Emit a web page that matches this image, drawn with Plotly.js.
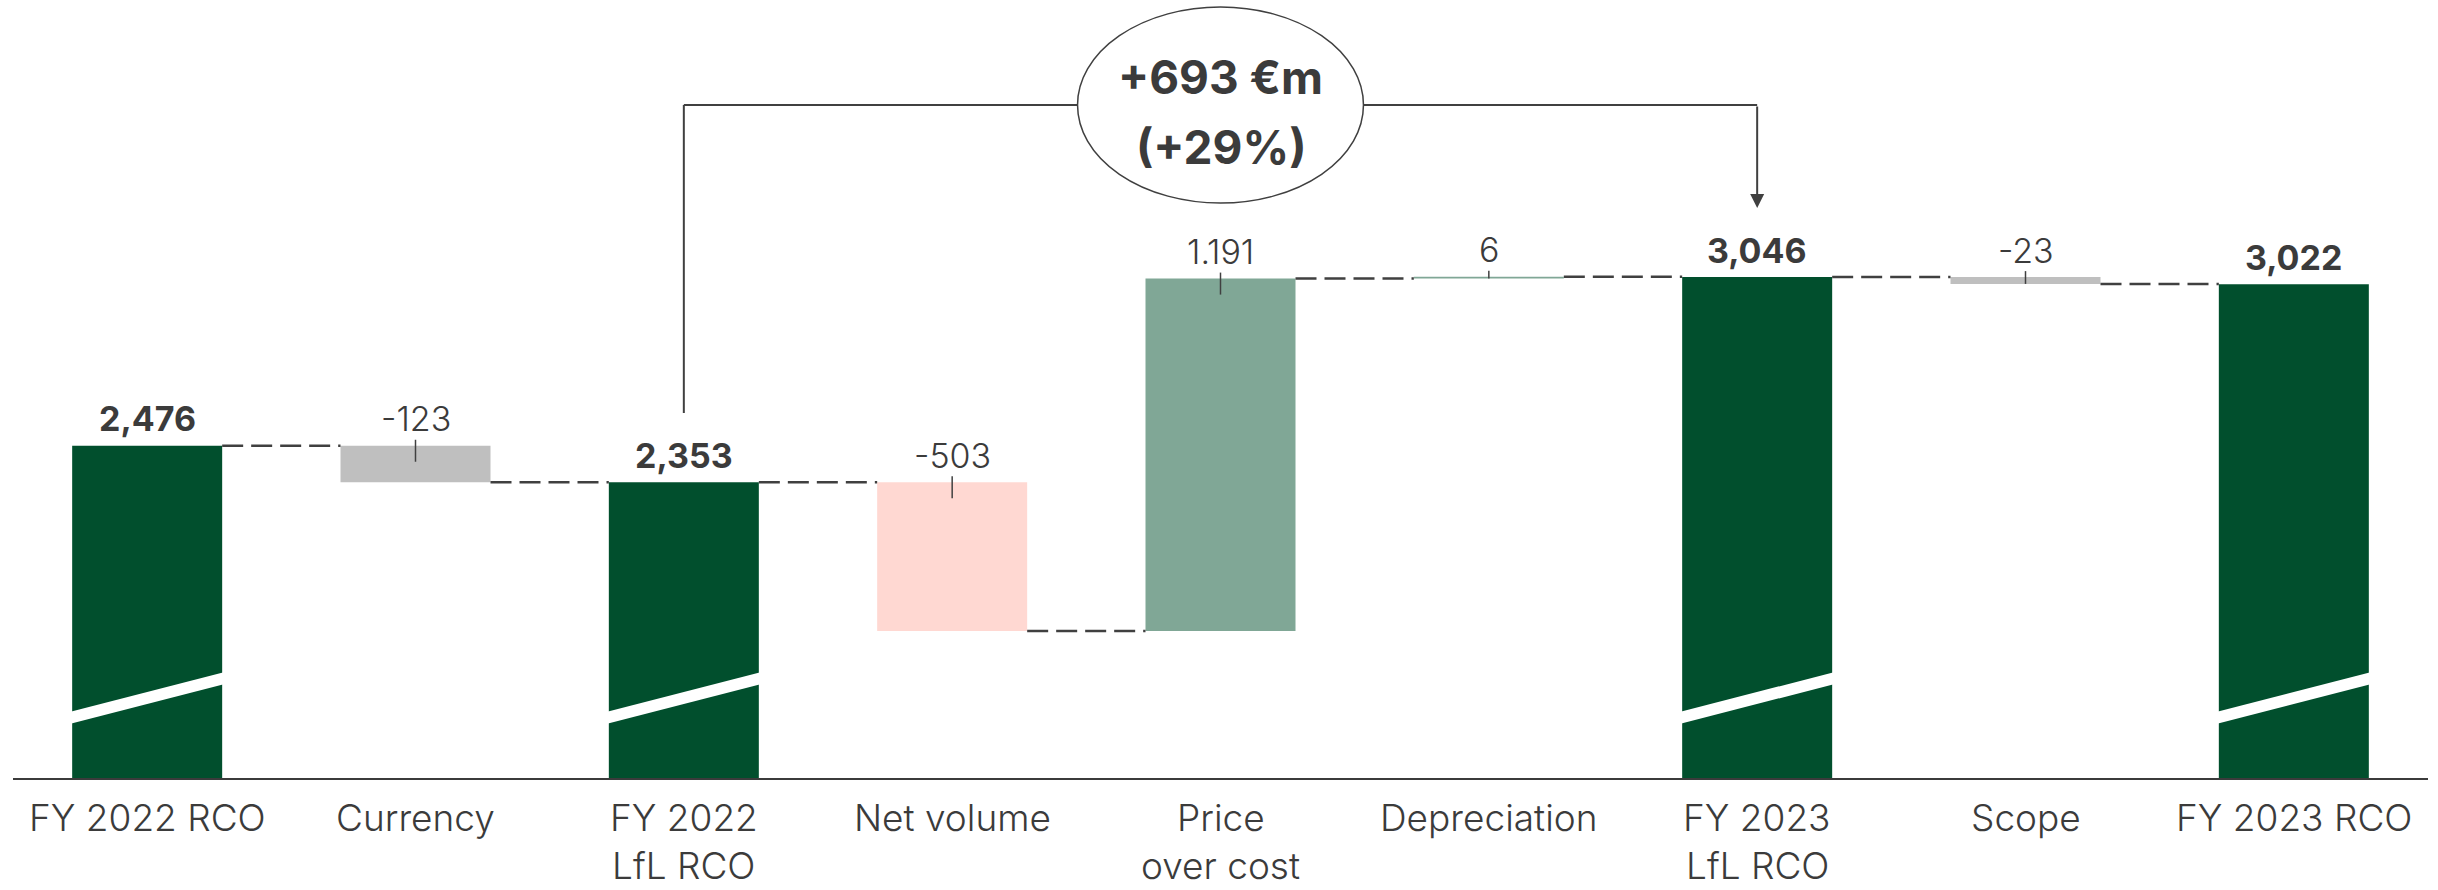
<!DOCTYPE html>
<html>
<head>
<meta charset="utf-8">
<script src="https://cdn.plot.ly/plotly-3.0.1.min.js"></script>
<style>
  html, body { margin: 0; padding: 0; background: #ffffff; }
  #chart { width: 2438px; height: 890px; }
</style>
</head>
<body>
<div id="chart"></div>
<script>
// bridge data, EUR m
var categories = ['FY 2022 RCO', 'Currency', 'FY 2022<br>LfL RCO', 'Net volume', 'Price<br>over cost',
                  'Depreciation', 'FY 2023<br>LfL RCO', 'Scope', 'FY 2023 RCO'];
var measures = ['total', 'relative', 'total', 'relative', 'relative', 'relative', 'total', 'relative', 'total'];
var values = [2476, -123, 2353, -503, 1191, 6, 3046, -23, 3022];
var valueLabels = ['2,476', '-123', '2,353', '-503', '1.191', '6', '3,046', '-23', '3,022'];
var barColors = ['#014f2d', '#bfbfbf', '#014f2d', '#ffd8d2', '#80a796', '#80a796', '#014f2d', '#bfbfbf', '#014f2d'];

var bridgeText = ['+693 €m', '(+29%)'];
var bridgeFrom = 2, bridgeTo = 6;

var TXT = '#3b3b3b';
var FONT = 'Inter, "Noto Sans", sans-serif';
var BAR_W = 0.559;
var PLOT_H = 778;

function plot_bridge(){
  const myDiv = document.getElementById('chart');

  var xs = [], bases = [], heights = [], tops = [], ends = [];
  var run = 0;
  for (var i = 0; i < values.length; i++) {
    xs.push(i);
    var b, e;
    if (measures[i] === 'total') { b = 0; e = values[i]; }
    else { b = run; e = run + values[i]; }
    run = e;
    var lo = Math.min(b, e), hi = Math.max(b, e);
    bases.push(lo);
    heights.push(hi - lo);
    tops.push(hi);
    ends.push(e);
  }

  var bars = {
    type: 'bar',
    x: xs,
    y: heights,
    base: bases,
    width: BAR_W,
    marker: {color: barColors, line: {width: 0}},
    hoverinfo: 'skip',
    showlegend: false
  };

  var shapes = [];
  var annotations = [];
  var half = BAR_W / 2;

  // dashed connectors
  for (var i = 0; i < values.length - 1; i++) {
    shapes.push({
      type: 'line', xref: 'x', yref: 'y',
      x0: i + half, x1: i + 1 - half, y0: ends[i], y1: ends[i],
      line: {color: '#404040', width: 2.5, dash: '21px,8px'}
    });
  }

  // value labels + small ticks
  for (var i = 0; i < values.length; i++) {
    var isTotal = measures[i] === 'total';
    annotations.push({
      x: i, y: tops[i], xref: 'x', yref: 'y',
      text: valueLabels[i], showarrow: false,
      yanchor: 'middle', yshift: 27,
      font: {family: FONT, size: 34, color: TXT, weight: isTotal ? 'bold' : 300}
    });
    if (!isTotal) {
      var hpx = heights[i] / (yRange[1] - yRange[0]) * PLOT_H;
      shapes.push({
        type: 'line', xref: 'x', yref: 'y', ysizemode: 'pixel', yanchor: tops[i],
        x0: i, x1: i, y0: 6, y1: -Math.min(16, hpx),
        line: {color: '#404040', width: 1.5}
      });
    }
  }

  // category labels under the axis (two lines spaced like the original)
  for (var i = 0; i < categories.length; i++) {
    var lines = categories[i].split('<br>');
    for (var k = 0; k < lines.length; k++) {
      annotations.push({
        x: i, xref: 'x', yref: 'paper',
        y: (PLOT_H - (817 + 48 * k)) / PLOT_H,
        text: lines[k], showarrow: false, yanchor: 'middle',
        font: {family: FONT, size: 37, color: TXT, weight: 300}
      });
    }
  }

  // axis break marks on total bars
  for (var i = 0; i < values.length; i++) {
    if (measures[i] !== 'total') continue;
    var xl = i - half - 0.01, xr = i + half + 0.01;
    var yl = 54 / PLOT_H, yr = 94 / PLOT_H, th = 12 / PLOT_H;
    shapes.push({
      type: 'path', xref: 'x', yref: 'paper',
      path: 'M' + xl + ',' + yl + ' L' + xr + ',' + yr + ' L' + xr + ',' + (yr + th) +
            ' L' + xl + ',' + (yl + th) + ' Z',
      fillcolor: '#ffffff', line: {width: 0}
    });
  }

  // bridge bracket with ellipse
  var hY = (PLOT_H - 105) / PLOT_H;
  var mid = (bridgeFrom + bridgeTo) / 2;
  var rx = 143 / 268.4;
  shapes.push({type: 'line', xref: 'x', yref: 'paper', x0: bridgeFrom, x1: bridgeFrom,
               y0: (PLOT_H - 413) / PLOT_H, y1: hY, line: {color: '#404040', width: 2}});
  shapes.push({type: 'line', xref: 'x', yref: 'paper', x0: bridgeFrom, x1: mid - rx,
               y0: hY, y1: hY, line: {color: '#404040', width: 2}});
  shapes.push({type: 'line', xref: 'x', yref: 'paper', x0: mid + rx, x1: bridgeTo,
               y0: hY, y1: hY, line: {color: '#404040', width: 2}});
  shapes.push({type: 'circle', xref: 'x', yref: 'paper', x0: mid - rx, x1: mid + rx,
               y0: (PLOT_H - 203) / PLOT_H, y1: (PLOT_H - 7) / PLOT_H,
               fillcolor: '#ffffff', line: {color: '#404040', width: 1.5}});
  annotations.push({x: bridgeTo, y: (PLOT_H - 208) / PLOT_H, xref: 'x', yref: 'paper',
                    ax: 0, ay: -103, axref: 'pixel', ayref: 'pixel', text: '',
                    showarrow: true, arrowhead: 2, arrowsize: 1.4, arrowwidth: 2, arrowcolor: '#404040'});
  annotations.push({x: mid, y: (PLOT_H - 77) / PLOT_H, xref: 'x', yref: 'paper', showarrow: false,
                    text: bridgeText[0], yanchor: 'middle',
                    font: {family: FONT, size: 46, color: TXT, weight: 'bold'}});
  annotations.push({x: mid, y: (PLOT_H - 147) / PLOT_H, xref: 'x', yref: 'paper', showarrow: false,
                    text: bridgeText[1], yanchor: 'middle',
                    font: {family: FONT, size: 46, color: TXT, weight: 'bold'}});

  var layout = {
    width: 2438,
    height: 890,
    margin: {l: 13, r: 10, t: 0, b: 112},
    paper_bgcolor: '#ffffff',
    plot_bgcolor: '#ffffff',
    showlegend: false,
    xaxis: {
      range: [-0.5, 8.5],
      tickvals: xs,
      showticklabels: false,
      showline: true, linecolor: '#3b3b3b', linewidth: 2,
      showgrid: false, zeroline: false, ticks: '',
      fixedrange: true
    },
    yaxis: {
      range: yRange,
      visible: false,
      fixedrange: true
    },
    shapes: shapes,
    annotations: annotations
  };

  Plotly.newPlot(myDiv, [bars], layout, {displayModeBar: false, staticPlot: true});
}

var yRange = [1353, 1353 + 3.38 * PLOT_H];
plot_bridge();
</script>
</body>
</html>
